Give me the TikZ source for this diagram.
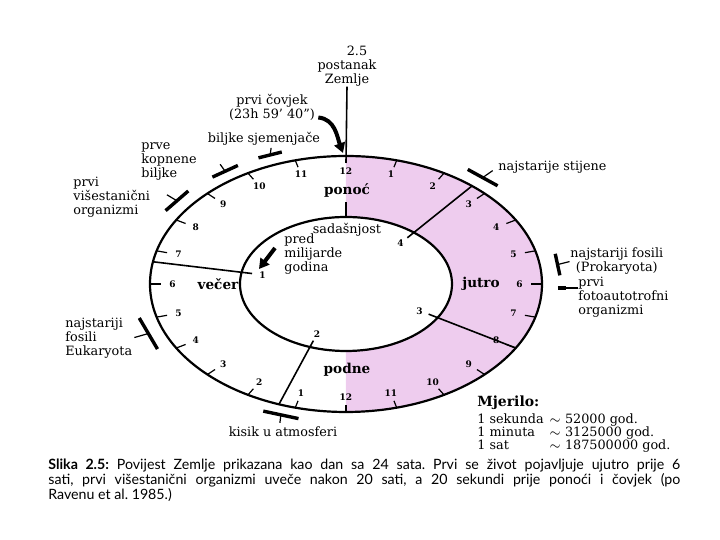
\documentclass[tikz,border=0pt]{standalone}
\usepackage{fontspec}
\setmainfont{DejaVu Serif}
\newfontfamily\capfont{Lato}
\usetikzlibrary{positioning, arrows.meta, calc}
\definecolor{dayPink}{RGB}{238,204,238}

\begin{document}
\begin{tikzpicture}[x=0.5pt, y=0.5pt,
    lbl/.style={font=\fontsize{6.4}{7}\selectfont, inner sep=0pt},
    part/.style={font=\fontsize{6.8}{7}\selectfont\bfseries, inner sep=0pt},
    hour/.style={font=\fontsize{4.5}{5}\selectfont\bfseries, inner sep=0pt},
    tick/.style={line width=0.6pt},
    divider/.style={line width=0.8pt},
    bar/.style={line width=1.7pt},
    stub/.style={line width=0.6pt},
    fatarrow/.style={line width=2pt, -{Triangle[length=5pt, width=5.5pt]}}
]
\useasboundingbox (-346,-256) rectangle (374,284);

% day half of the ring
\fill[dayPink] (0,128) arc[start angle=90, end angle=-90, x radius=196, y radius=128]
  -- (0,-67) arc[start angle=-90, end angle=90, x radius=106, y radius=67] -- cycle;

\draw[line width=1.1pt] (0,0) ellipse [x radius=196, y radius=128];
\draw[line width=1.1pt] (0,0) ellipse [x radius=106, y radius=67];

% hours
\foreach \h in {1,...,11} {
  \pgfmathsetmacro\aR{90-15*\h}
  \pgfmathsetmacro\aL{270-15*\h}
  \draw[tick] ({196*cos(\aR)},{128*sin(\aR)}) -- ({0.945*196*cos(\aR)},{0.945*128*sin(\aR)});
  \node[hour] (hR\h) at ({0.885*196*cos(\aR)},{0.885*128*sin(\aR)}) {\h};
  \draw[tick] ({196*cos(\aL)},{128*sin(\aL)}) -- ({0.945*196*cos(\aL)},{0.945*128*sin(\aL)});
  \node[hour] (hL\h) at ({0.885*196*cos(\aL)},{0.885*128*sin(\aL)}) {\h};
}
\draw[tick] (0,-128) -- (0,-121);
\node[hour] (hR12) at (0,-113) {12};
\node[hour] (hL12) at (0,113) {12};

% milliards of years
\foreach \b/\a in {1/170, 2/250, 3/330, 4/50} {
  \coordinate (in\b) at ({0.9*106*cos(\a)},{0.9*67*sin(\a)});
  \coordinate (out\b) at ({196*cos(\a)},{128*sin(\a)});
  \draw[divider] (in\b) -- (out\b);
  \node[hour] (g\b) at ({0.8*106*cos(\a)},{0.8*67*sin(\a)}) {\b};
}
\coordinate (inTop) at (0,67);
\draw[divider] (inTop) -- ++(0,15);

% events
\foreach \nm/\t/\k/\l in {Sjem/111/1.08/12, Kopn/125/1.075/14, Vise/143/1.08/15, Stij/50/1.085/17, Prok/8/1.09/11, Euka/201/1.08/18, Kisi/252/1.075/18} {
  \pgfmathsetmacro\tx{-196*sin(\t)}
  \pgfmathsetmacro\ty{128*cos(\t)}
  \pgfmathsetmacro\tn{veclen(\tx,\ty)}
  \pgfmathsetmacro\ux{\l*\tx/\tn}
  \pgfmathsetmacro\uy{\l*\ty/\tn}
  \coordinate (b\nm) at ({\k*196*cos(\t)},{\k*128*sin(\t)});
  \draw[bar] ($(b\nm)-(\ux,\uy)$) -- ($(b\nm)+(\ux,\uy)$);
}
\coordinate (bFoto) at (212,-4);
\draw[line width=2.2pt] (bFoto) -- ++(8,0);

\draw[stub] (bSjem) -- ++(1,7);
\draw[stub] (bKopn) -- ++(-5,7);
\draw[stub] (bVise) -- ++(-10,6);
\draw[stub] (bStij) -- ++(10,7);
\draw[stub] (bProk) -- ++(12,3);
\draw[stub] (bEuka) -- ++(-14,-4);
\draw[stub] (bKisi) -- ++(-1,-8);

% texts
\node[lbl] (broj) at (11,233) {2.5};
\node[lbl, align=center] (postanak) at (1,211) {postanak\\Zemlje};
\node[lbl, align=center] (covjek) at (-74,177) {prvi čovjek\\(23h 59’ 40”)};
\node[lbl] (sjemenjace) at (-82,145) {biljke sjemenjače};
\node[lbl, align=left, anchor=west] (kopnene) at (-205,122) {prve\\kopnene\\biljke};
\node[lbl, align=left, anchor=west] (visestanicni) at (-273,87) {prvi\\višestanični\\organizmi};
\node[lbl, anchor=west] (stijene) at (152,117) {najstarije stijene};
\node[lbl, align=center, anchor=west] (prokaryota) at (224,23) {najstariji fosili\\(Prokaryota)};
\node[lbl, align=left, anchor=north west] (foto) at (232,7) {prvi\\fotoautotrofni\\organizmi};
\node[lbl, align=left, anchor=west] (eukaryota) at (-281,-54) {najstariji\\fosili\\Eukaryota};
\node[lbl] (kisik) at (-63,-148) {kisik u atmosferi};
\draw[stub] (bFoto) -- (bFoto -| foto.west);

\node[part] (ponoc) at (1,94) {ponoć};
\node[part] (podne) at (1,-86) {podne};
\node[part] (vecer) at (-128,0) {večer};
\node[part] (jutro) at (135,0) {jutro};
\node[lbl] (sadasnjost) at (1,54) {sadašnjost};
\node[lbl, align=left, anchor=west] (milijarde) at (-62,30) {pred\\milijarde\\godina};

\coordinate (z12) at (-3,131);
\draw[divider] (postanak.south) -- (0,121);
\draw[fatarrow] ($(covjek.south east)+(3,3)$) to[out=-5, in=110] (z12);
\coordinate (milTip) at (-87,15);
\draw[fatarrow] ($(milijarde.west)+(-9,6)$) -- (milTip);

% scale
\node[lbl, font=\fontsize{7}{7}\selectfont\bfseries, anchor=west] (mjerilo) at (131,-119) {Mjerilo:};
\node[lbl, anchor=north west, font=\fontsize{6.4}{6}\selectfont] (mjere) at (131,-129) {%
  \begin{tabular}{@{}p{36pt}@{}l@{}}
  1 sekunda & $\sim$ 52000 god.\\
  1 minuta & $\sim$ 3125000 god.\\
  1 sat & $\sim$ 187500000 god.
  \end{tabular}};

\node[anchor=north west, text width=316pt, align=justify, inner sep=0pt,
      font=\capfont\fontsize{7.1}{7.5}\selectfont\frenchspacing] (opis) at (-298,-175)
  {\textbf{Slika 2.5:} Povijest Zemlje prikazana kao dan sa 24 sata. Prvi se život pojavljuje ujutro prije 6\linebreak
   sati, prvi višestanični organizmi uveče nakon 20 sati, a 20 sekundi prije ponoći i čovjek (po\linebreak
   Ravenu et al. 1985.)};
\end{tikzpicture}
\end{document}
